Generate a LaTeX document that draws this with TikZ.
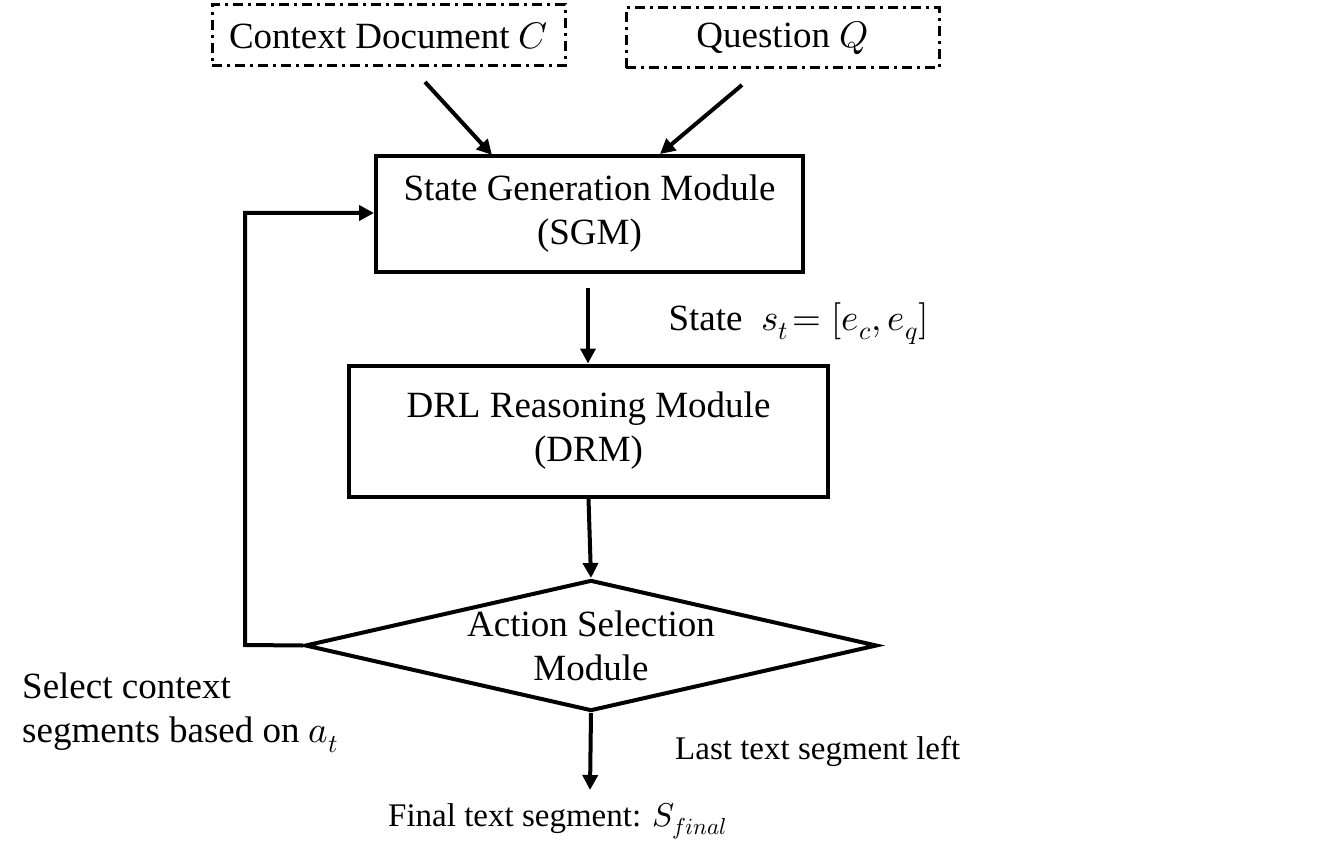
\documentclass[tikz,border=0pt]{standalone}
\usepackage{fontspec}
\usepackage{unicode-math}
\setmainfont{Liberation Serif}
\usetikzlibrary{arrows.meta,shapes.geometric,calc}
\begin{document}
\begin{tikzpicture}[x=1pt,y=-1pt,
  big/.style={font=\fontsize{37}{44}\selectfont},
  small/.style={font=\fontsize{33}{38}\selectfont},
  dbox/.style={draw,line width=3pt,dash pattern=on 10pt off 5pt on 3pt off 5pt,inner sep=0pt,big},
  mbox/.style={draw,line width=4pt,inner sep=0pt,align=center,big},
  arr/.style={line width=4pt,-{Triangle[length=15pt,width=15pt]}},
  lin/.style={line width=4pt}]
\useasboundingbox (0,0) rectangle (1321,858);
\node[dbox,minimum width=353pt,minimum height=61pt] (ctx) at (388.5,35.5) {Context Document $C$};
\node[dbox,minimum width=313pt,minimum height=60pt] (qst) at (782.5,38) {Question $Q$};
\node[mbox,minimum width=427pt,minimum height=116pt] (sgm) at (589.5,214) {State Generation Module\\(SGM)};
\node[mbox,minimum width=479pt,minimum height=131pt] (drm) at (588.5,431) {DRL Reasoning Module\\(DRM)};
\node[draw,diamond,line width=4pt,inner sep=0pt,minimum width=572pt,minimum height=131pt,aspect=4.37] (asm) at (591,645.5) {};
\node[big,align=center] (asmt) at (asm.center) {Action Selection\\Module};
\node[big,anchor=west] (stl) at (665,324) {State\ \ $s_t\!=[e_c,e_q]$};
\node[big,anchor=north west,align=left,inner sep=0pt] (sel) at (22,673) {Select context\\segments based on $a_t$};
\node[small,anchor=west,inner sep=0pt] (last) at (675,751) {Last text segment left};
\node[small,anchor=west,inner sep=0pt] (fin) at (388,821) {Final text segment: $S_{final}$};
\coordinate (c1) at (425,82);
\coordinate (c2) at (742,85);
\coordinate (c3) at (588,288);
\coordinate (c4) at (590,790);
\coordinate (lp1) at (245,645);
\coordinate (lp2) at (245,213);
\draw[arr] (c1) -- (492,155);
\draw[arr] (c2) -- (660,154);
\draw[arr] (c3) -- (drm.north -| c3);
\draw[arr] (drm.south) -- (asm.north);
\draw[arr] (asm.south) -- (c4);
\draw[arr] (asm.west) -- (lp1) -- (lp2) -- (sgm.west |- lp2);
\end{tikzpicture}
\end{document}
